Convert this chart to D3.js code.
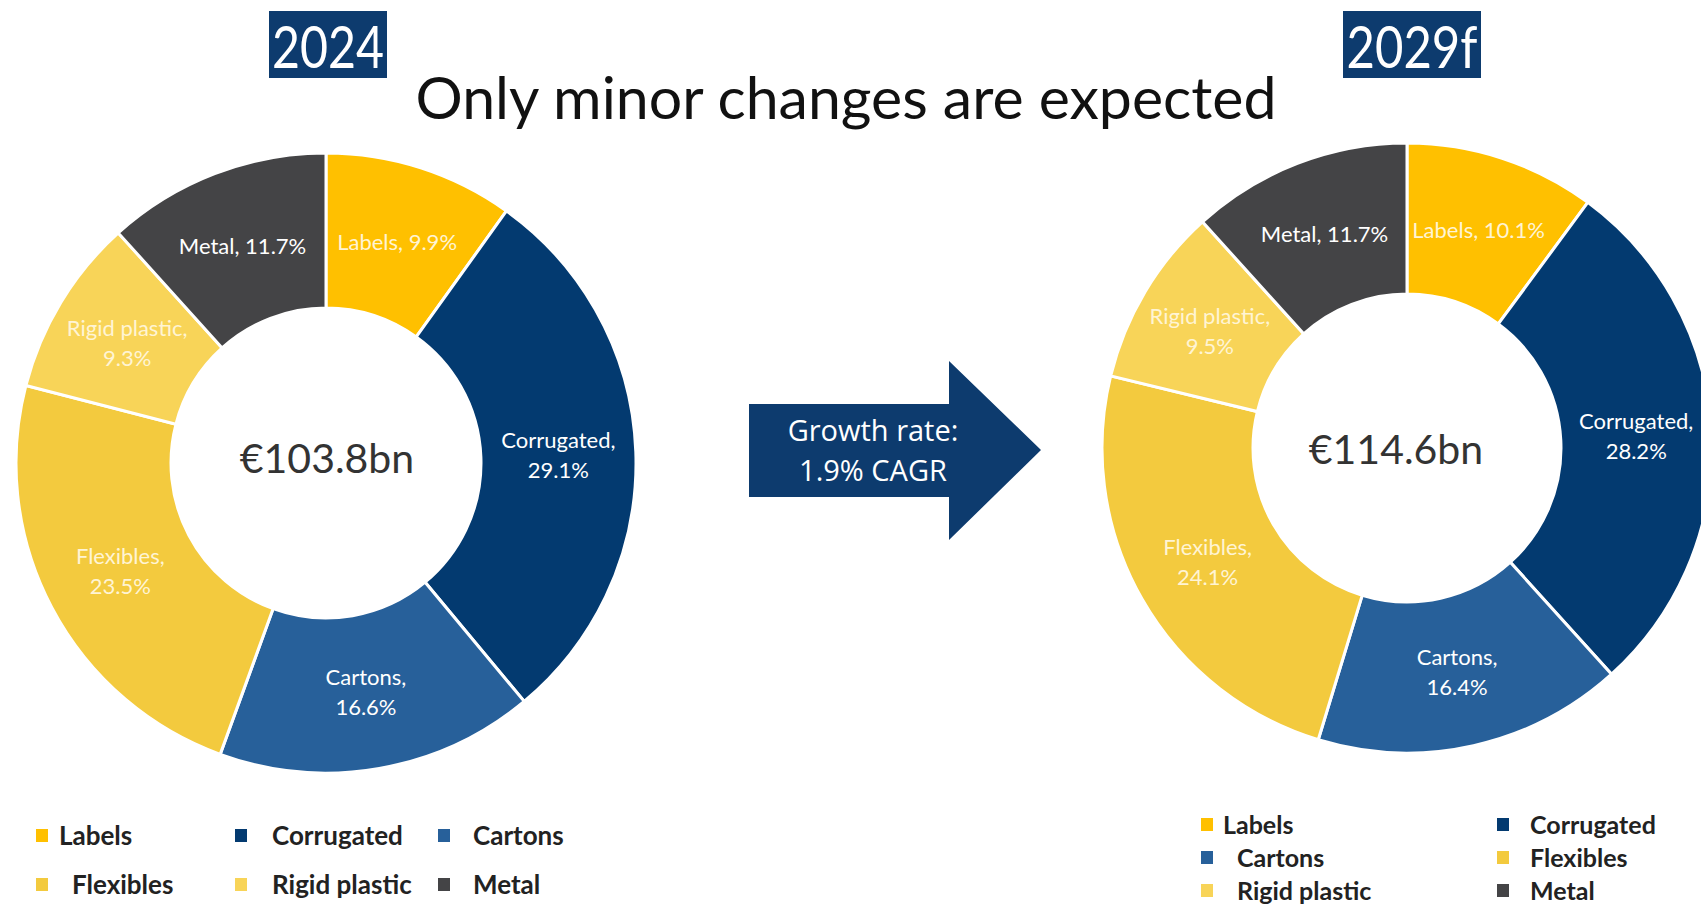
<!DOCTYPE html>
<html>
<head>
<meta charset="utf-8">
<script src="https://d3js.org/d3.v7.min.js"></script>
<style>
  html, body { margin: 0; padding: 0; background: #fff; }
  svg { display: block; }
</style>
</head>
<body>
<div id="chart"></div>
<script>
// data
var categories = ["Labels", "Corrugated", "Cartons", "Flexibles", "Rigid plastic", "Metal"];
var share2024 = [9.9, 29.1, 16.6, 23.5, 9.3, 11.7];
var share2029 = [10.1, 28.2, 16.4, 24.1, 9.5, 11.7];
var years = ["2024", "2029f"];
var totals = ["€103.8bn", "€114.6bn"];
var colors = ["#FFC000", "#033A70", "#27609A", "#F3CA3E", "#F8D458", "#444446"];
var oneLine = ["Labels", "Metal"];
var growthText = ["Growth rate:", "1.9% CAGR"];
var title = "Only minor changes are expected";

var W = 1701, H = 905;
var svg = d3.select("#chart").append("svg").attr("width", W).attr("height", H);

var color = d3.scaleOrdinal().domain(categories).range(colors);
var pie = d3.pie().sort(null).value(function(d){ return d.v; });

// the two donuts
var donuts = [
  {values: share2024, cx: 326, cy: 463, ro: 310, ri: 155, year: years[0], total: totals[0], tdx: 1, tdy: 10,
   box: {x: 269, y: 11, w: 118, h: 67, tw: 112},
   legend: {cols: 3, x: [36, 235, 438], tx: [[59, 272, 473], [72, 272, 473]], y0: 836, dy: 49, fs: 26}},
  {values: share2029, cx: 1407, cy: 448, ro: 305, ri: 154, year: years[1], total: totals[1], tdx: -11, tdy: 16,
   box: {x: 1343, y: 11, w: 138, h: 67, tw: 131},
   legend: {cols: 2, x: [1201, 1497], tx: [[1223, 1530], [1237, 1530], [1237, 1530]], y0: 825, dy: 33, fs: 25}}
];

donuts.forEach(function(c){
  var data = categories.map(function(k, i){ return {k: k, v: c.values[i]}; });
  var arc = d3.arc().innerRadius(c.ri).outerRadius(c.ro);
  var g = svg.append("g").attr("transform", "translate(" + c.cx + "," + c.cy + ")");

  g.selectAll("path").data(pie(data)).enter().append("path")
    .attr("d", arc)
    .attr("fill", function(d){ return color(d.data.k); })
    .attr("stroke", "#fff")
    .attr("stroke-width", 3);

  // slice labels at centroid
  var lbl = g.selectAll("text.lbl").data(pie(data)).enter().append("text")
    .attr("class", "lbl")
    .attr("transform", function(d){ return "translate(" + arc.centroid(d) + ")"; })
    .attr("text-anchor", "middle")
    .style("font-family", "Lato, 'Open Sans', sans-serif")
    .style("font-size", "22px")
    .attr("fill", function(d){
      return (d.data.k == "Labels" || d.data.k == "Flexibles" || d.data.k == "Rigid plastic") ? "#FFF4D4" : "#fff";
    });
  lbl.each(function(d){
    var lines = oneLine.indexOf(d.data.k) >= 0
      ? [d.data.k + ", " + d.data.v + "%"]
      : [d.data.k + ",", d.data.v + "%"];
    var t = d3.select(this);
    var start = -(lines.length - 1) * 15 + 8;
    lines.forEach(function(s, j){
      t.append("tspan").attr("x", 0).attr("y", start + j * 30).text(s);
    });
  });

  // total in the hole
  g.append("text")
    .attr("text-anchor", "middle")
    .attr("x", c.tdx).attr("y", c.tdy)
    .style("font-family", "Lato, 'Open Sans', sans-serif")
    .style("font-size", "41px")
    .attr("fill", "#333")
    .text(c.total);

  // year box
  svg.append("rect")
    .attr("x", c.box.x).attr("y", c.box.y)
    .attr("width", c.box.w).attr("height", c.box.h)
    .attr("fill", "#0D3B6E");
  svg.append("text")
    .attr("x", c.box.x + (c.box.w - c.box.tw) / 2).attr("y", c.box.y + c.box.h - 10)
    .attr("textLength", c.box.tw)
    .attr("lengthAdjust", "spacingAndGlyphs")
    .style("font-family", "Lato, 'Open Sans', sans-serif")
    .style("font-size", "59px")
    .attr("fill", "#fff")
    .text(c.year);

  // legend
  var L = c.legend;
  var items = svg.selectAll(null).data(categories).enter().append("g");
  items.append("rect")
    .attr("x", function(d, i){ return L.x[i % L.cols]; })
    .attr("y", function(d, i){ return L.y0 + Math.floor(i / L.cols) * L.dy - 7; })
    .attr("width", 12).attr("height", 13)
    .attr("fill", function(d){ return color(d); });
  items.append("text")
    .attr("x", function(d, i){ return L.tx[Math.floor(i / L.cols)][i % L.cols]; })
    .attr("y", function(d, i){ return L.y0 + Math.floor(i / L.cols) * L.dy + 9; })
    .style("font-family", "Lato, 'Open Sans', sans-serif")
    .style("font-size", L.fs + "px")
    .style("font-weight", "bold")
    .attr("fill", "#222")
    .text(function(d){ return d; });
});

// title
svg.append("text")
  .attr("x", 846).attr("y", 119)
  .attr("text-anchor", "middle")
  .style("font-family", "Lato, 'Open Sans', sans-serif")
  .style("font-size", "59px")
  .attr("fill", "#111")
  .text(title);

// growth arrow
var arrow = d3.path();
arrow.moveTo(749, 404);
arrow.lineTo(949, 404);
arrow.lineTo(949, 361);
arrow.lineTo(1041, 450);
arrow.lineTo(949, 540);
arrow.lineTo(949, 497);
arrow.lineTo(749, 497);
arrow.closePath();
svg.append("path").attr("d", arrow.toString()).attr("fill", "#0D3B6E");

svg.selectAll("text.grow").data(growthText).enter().append("text")
  .attr("class", "grow")
  .attr("x", 873)
  .attr("y", function(d, i){ return 441 + i * 40; })
  .attr("text-anchor", "middle")
  .style("font-family", "'Open Sans', sans-serif")
  .style("font-size", "29px")
  .style("font-weight", "500")
  .attr("fill", "#fff")
  .text(function(d){ return d; });
</script>
</body>
</html>
